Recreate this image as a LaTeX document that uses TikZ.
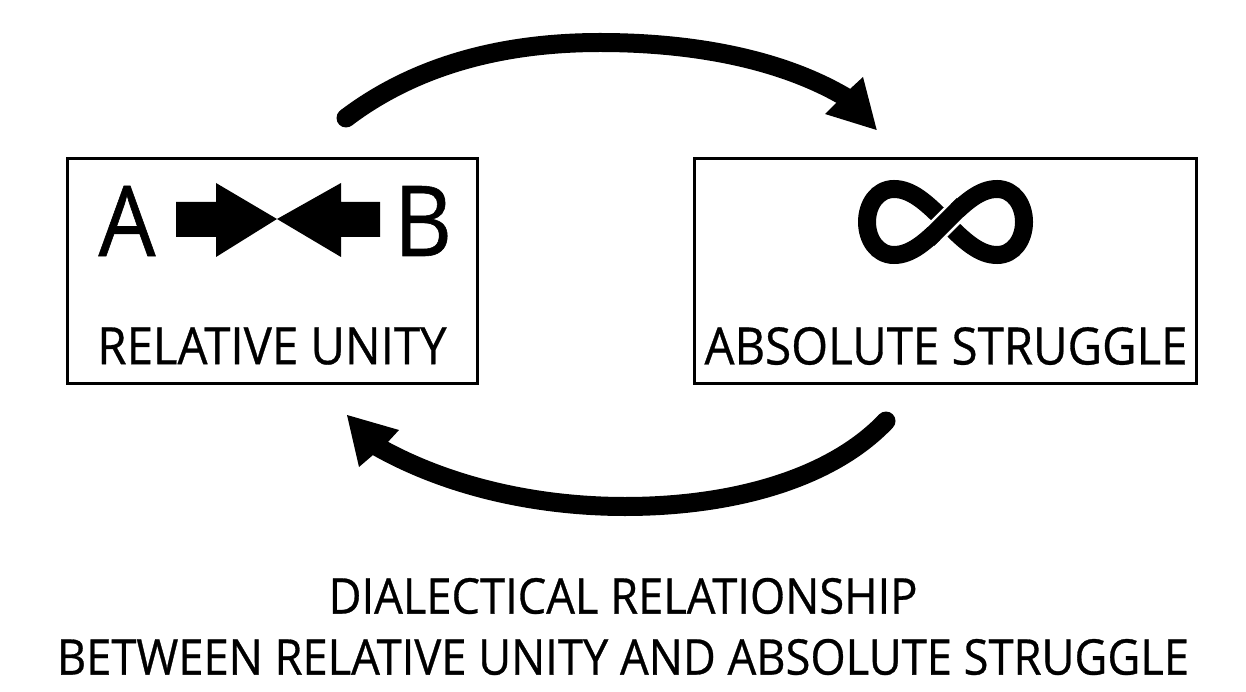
\documentclass[tikz,border=0pt]{standalone}
\usepackage{fontspec}
\setmainfont[FakeStretch=0.92,FakeBold=0.6]{Open Sans}
\usetikzlibrary{calc}
\tikzset{
  box/.style={draw=black,line width=3pt,inner sep=0pt},
  lbl/.style={inner sep=0pt,text=black,font=\fontsize{51.5}{52}\selectfont},
  caption/.style={inner sep=0pt,text=black,font=\fontsize{49.2}{50}\selectfont},
  letter/.style={inner sep=0pt,text=black,font=\fontsize{98}{98}\selectfont},
  bigarc/.style={draw=black,line width=19pt,line cap=butt},
  head/.style={fill=black,draw=none},
  loopline/.style={draw=black,line width=18pt}
}
\begin{document}
\begin{tikzpicture}[x=1pt,y=-1pt]
\useasboundingbox (0,0) rectangle (1246,692);
\node[box,minimum width=410pt,minimum height=225pt] (left) at (272.5,271) {};
\node[box,minimum width=502pt,minimum height=225pt] (right) at (945.5,271) {};
\node[lbl] (lt) at (272,346) {RELATIVE UNITY};
\node[lbl] (rt) at (946,346) {ABSOLUTE STRUGGLE};
\node[letter] (a) at (127,221) {A};
\node[letter] (b) at (423,221) {B};
\fill[head] (176,202) -- (216,202) -- (216,183) -- (277,219) -- (341,183) -- (341,202) -- (380,202) -- (380,237) -- (341,237) -- (341,257) -- (277,219) -- (216,257) -- (216,237) -- (176,237) -- cycle;
\draw[loopline] (945.5,222) .. controls (965,202) and (980,189) .. (997,189) .. controls (1014,189) and (1024,205) .. (1024,222) .. controls (1024,239) and (1014,255) .. (997,255) .. controls (980,255) and (965,242) .. (945.5,222) .. controls (926,202) and (911,189) .. (894,189) .. controls (877,189) and (867,205) .. (867,222) .. controls (867,239) and (877,255) .. (894,255) .. controls (911,255) and (926,242) .. (945.5,222) -- cycle;
\draw[white,line width=23pt] (934,233.5) -- (957,210.5);
\draw[black,line width=18pt] (928,239.5) -- (963,204.5);
\coordinate (s1) at (346,118);
\coordinate (e1) at (847,98);
\coordinate (s2) at (886,421);
\coordinate (e2) at (376,446);
\draw[bigarc] (s1) .. controls (420,62) and (510,42.5) .. (600,42.5) .. controls (690,42.5) and (780,58) .. (e1);
\fill[black] (s1) circle (9.5pt);
\fill[head] (876.7,130) -- (825,114) -- (837,102) -- (850,89) -- (863,77) -- cycle;
\draw[bigarc] (s2) .. controls (830,480) and (730,506.5) .. (625,506.5) .. controls (540,506.5) and (450,488) .. (e2);
\fill[black] (s2) circle (9.5pt);
\fill[head] (347,415) -- (399,430) -- (387,443) -- (373,455) -- (359,467) -- cycle;
\node[caption] (c1) at (623,596) {DIALECTICAL RELATIONSHIP};
\node[caption] (c2) at (623,657) {BETWEEN RELATIVE UNITY AND ABSOLUTE STRUGGLE};
\end{tikzpicture}
\end{document}
